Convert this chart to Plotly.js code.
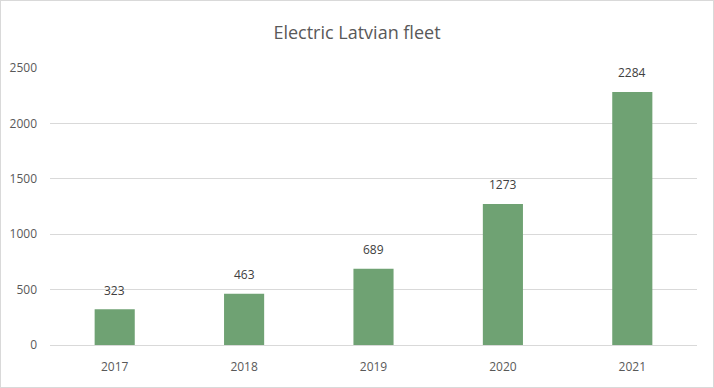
<!DOCTYPE html>
<html>
<head>
<meta charset="utf-8">
<script src="https://cdn.plot.ly/plotly-3.0.1.min.js"></script>
<style>
  html, body { margin: 0; padding: 0; background: #fff; }
  #chart { width: 714px; height: 388px; box-sizing: border-box; border: 1px solid #d9d9d9; }
</style>
</head>
<body>
<div id="chart"></div>
<script>
const years = ['2017', '2018', '2019', '2020', '2021'];
const fleet = [323, 463, 689, 1273, 2284];
const yTicks = [0, 500, 1000, 1500, 2000, 2500];

const trace = {
  type: 'bar',
  x: years,
  y: fleet,
  marker: { color: '#6fa273' },
  hoverinfo: 'x+y'
};

// category axis: annotation x given as the category's index
const labels = years.map((yr, i) => ({
  x: i, y: fleet[i], xref: 'x', yref: 'y',
  text: String(fleet[i]),
  showarrow: false,
  yanchor: 'middle',
  yshift: 19,
  font: { family: 'Open Sans, sans-serif', size: 12, color: '#404040' }
}));

const layout = {
  width: 712, height: 386,
  margin: { l: 49, r: 16, t: 67, b: 42 },
  paper_bgcolor: '#ffffff',
  plot_bgcolor: '#ffffff',
  bargap: 0.69,
  showlegend: false,
  annotations: labels,
  title: {
    text: 'Electric Latvian fleet',
    font: { family: 'Open Sans, sans-serif', size: 18, color: '#595959' },
    x: 0.5, xanchor: 'center', y: 0.918, yanchor: 'middle'
  },
  xaxis: {
    type: 'category',
    categoryarray: years,
    tickfont: { family: 'Open Sans, sans-serif', size: 12, color: '#595959' },
    showline: false, ticks: '', showgrid: false,
    ticklabelstandoff: 13
  },
  yaxis: {
    range: [0, 2500],
    tickvals: yTicks,
    ticktext: yTicks.map(String),
    tickfont: { family: 'Open Sans, sans-serif', size: 12, color: '#595959' },
    showgrid: true, gridcolor: '#d9d9d9', gridwidth: 1,
    zeroline: true, zerolinecolor: '#d9d9d9', zerolinewidth: 1,
    showline: false, ticks: '', ticklabelstandoff: 12
  }
};

Plotly.newPlot('chart', [trace], layout, { displayModeBar: false, staticPlot: true });
</script>
</body>
</html>
